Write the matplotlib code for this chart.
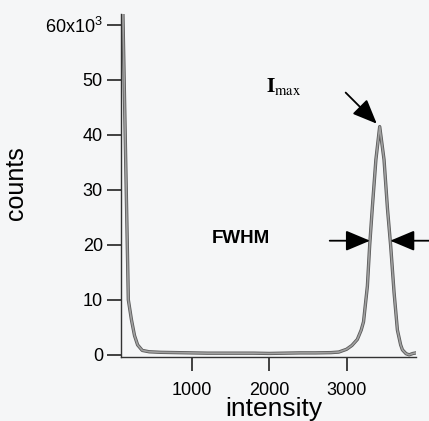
import numpy as np
import matplotlib
matplotlib.use("Agg")
import matplotlib.pyplot as plt

plt.rcParams['font.family'] = ['Liberation Sans', 'DejaVu Sans']
plt.rcParams['mathtext.default'] = 'regular'

# ---- data ----
intensity = [110, 180, 220, 260, 300, 360, 450, 600, 800, 1000, 1200, 1400, 1600,
             1800, 2000, 2200, 2400, 2600, 2800, 2900, 3000, 3070, 3140, 3190, 3220,
             3270, 3300, 3335, 3380, 3429, 3485, 3530, 3571, 3615, 3658, 3700, 3723,
             3770, 3810, 3860, 3900]
counts = [62000, 10000, 6400, 3500, 1800, 800, 550, 450, 400, 350, 300, 300, 300,
          300, 250, 300, 350, 350, 400, 500, 1000, 1700, 2800, 4500, 6000,
          12500, 20000, 27000, 35500, 41500, 35500, 26500, 19800, 11300, 4500, 1800, 900,
          200, 0, 250, 350]
xticks = [1000, 2000, 3000]
yticks = [0, 10000, 20000, 30000, 40000, 50000, 60000]
yticklabels = ['0', '10', '20', '30', '40', '50', '60x10$^{3}$']

x = np.array(intensity, float)
y = np.array(counts, float)

fig = plt.figure(figsize=(4.29, 4.21), dpi=100, facecolor='#f5f6f7')
ax = fig.add_axes([0.282, 0.152, 0.688, 0.815])
ax.set_facecolor('#f5f6f7')

ax.plot(x, y, color='#5a5a5a', lw=2.4, solid_joinstyle='round', zorder=2)
ax.plot(x, y, color='#a0a0a0', lw=1.2, solid_joinstyle='round', zorder=3)

ax.set_xlim(85, 3900)
ax.set_ylim(-400, 62000)

for s in ['top', 'right']:
    ax.spines[s].set_visible(False)
for s in ['left', 'bottom']:
    ax.spines[s].set_color('#333333')
    ax.spines[s].set_linewidth(1.0)

ax.set_xticks(xticks)
ax.set_xticklabels([str(t) for t in xticks])
ax.set_yticks(yticks)
ax.set_yticklabels(yticklabels)
ax.tick_params(axis='x', direction='out', length=10, width=1.2, pad=8,
               labelsize=13, color='#222222')
ax.tick_params(axis='y', direction='out', length=10, width=1.2, pad=3,
               labelsize=13, color='#222222')

ax.set_xlabel('intensity', fontsize=19, va='top')
ax.xaxis.set_label_coords(0.517, -0.118)
ax.set_ylabel('counts', fontsize=18)
ax.yaxis.set_label_coords(-0.315, 0.507)

# peak and FWHM from the data
ip = int(np.argmax(y[5:])) + 5
px, py = x[ip], y[ip]
half = py / 2
xl = np.interp(half, y[ip - 6:ip + 1], x[ip - 6:ip + 1])
xr = np.interp(half, y[ip:ip + 7][::-1], x[ip:ip + 7][::-1])

arrow = dict(arrowstyle='-|>,head_length=1.0,head_width=0.42', color='black',
             lw=1.3, mutation_scale=15, shrinkA=0)
ax.annotate('', xy=(px, py), xytext=(-24.5, 24.5), textcoords='offset points',
            arrowprops=dict(arrow, shrinkB=3), annotation_clip=False)
ax.annotate('', xy=(xl, half), xytext=(-29, 0), textcoords='offset points',
            arrowprops=dict(arrow, shrinkB=0), annotation_clip=False)
ax.annotate('', xy=(xr, half), xytext=(40, 0), textcoords='offset points',
            arrowprops=dict(arrow, shrinkB=0), annotation_clip=False)

fig.text(0.662, 0.793, r'$\mathbf{I}_{\mathrm{max}}$', fontsize=15,
         ha='center', va='center', math_fontfamily='stix')
fig.text(0.562, 0.434, 'FWHM', fontsize=13.5, fontweight='bold',
         ha='center', va='center')

fig.savefig('out.png', dpi=100, facecolor=fig.get_facecolor())
